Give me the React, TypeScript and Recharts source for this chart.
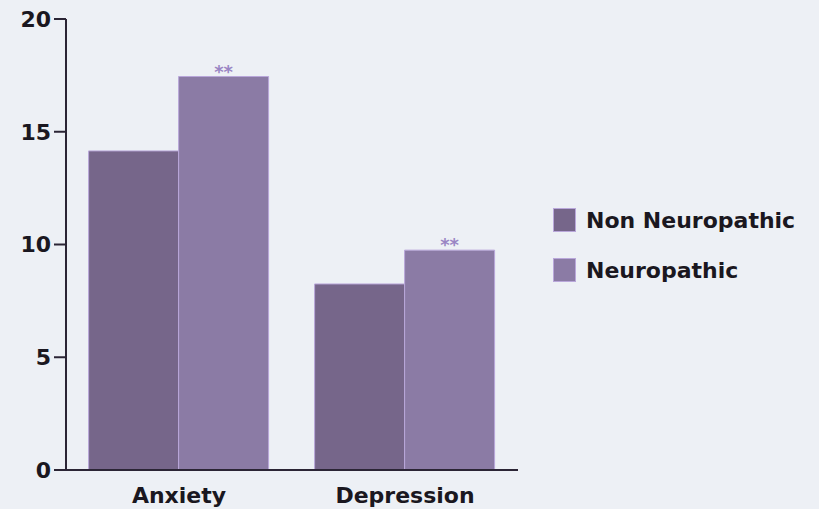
import { BarChart, Bar, XAxis, YAxis, LabelList } from 'recharts'

const categories = ['Anxiety', 'Depression']
const nonNeuropathic = [14.15, 8.25]
const neuropathic = [17.45, 9.75]
const significance = ['**', '**']
const yTicks = [0, 5, 10, 15, 20]

const BG = '#edf0f5'
const DARK = '#76668a'
const LIGHT = '#8b7ba5'
const EDGE = '#b9a7da'
const AXIS = '#2b2535'
const FONT = '"DejaVu Sans", Arial, sans-serif'

const data = categories.map((name, i) => ({
    name,
    non: nonNeuropathic[i],
    neuro: neuropathic[i],
    sig: significance[i],
}))

const legendItems = [
    { label: 'Non Neuropathic', color: DARK },
    { label: 'Neuropathic', color: LIGHT },
]

function LegendBox() {
    return (
        <div
            style={{
                position: 'absolute',
                left: 553,
                top: 195,
                fontFamily: FONT,
                fontWeight: 'bold',
                fontSize: 22,
                color: '#1a1720',
            }}
        >
            {legendItems.map((item) => (
                <div key={item.label} style={{ display: 'flex', alignItems: 'center', height: 50 }}>
                    <div
                        style={{
                            width: 21,
                            height: 22,
                            backgroundColor: item.color,
                            border: `1px solid ${EDGE}`,
                            marginRight: 10,
                        }}
                    />
                    <span>{item.label}</span>
                </div>
            ))}
        </div>
    )
}

export default function App() {
    return (
        <div style={{ position: 'absolute', left: 0, top: 0, width: 819, height: 509, background: BG }}>
            <BarChart
                width={819}
                height={509}
                data={data}
                margin={{ top: 19, right: 301, left: 6, bottom: 4 }}
                barCategoryGap="10%"
                barGap={0}
            >
                <XAxis
                    dataKey="name"
                    tickLine={false}
                    tickSize={0}
                    tickMargin={17}
                    height={35}
                    axisLine={{ stroke: AXIS, strokeWidth: 2 }}
                    tick={{ fill: '#1a1720', fontSize: 22, fontWeight: 'bold', fontFamily: FONT }}
                />
                <YAxis
                    width={60}
                    domain={[0, 20]}
                    ticks={yTicks}
                    tickSize={12}
                    tickMargin={3}
                    axisLine={{ stroke: AXIS, strokeWidth: 2 }}
                    tickLine={{ stroke: AXIS, strokeWidth: 2 }}
                    tick={{ fill: '#1a1720', fontSize: 22, fontWeight: 'bold', fontFamily: FONT }}
                />
                <Bar dataKey="non" name="Non Neuropathic" fill={DARK} stroke={EDGE} strokeWidth={1} isAnimationActive={false} />
                <Bar dataKey="neuro" name="Neuropathic" fill={LIGHT} stroke={EDGE} strokeWidth={1} isAnimationActive={false}>
                    <LabelList
                        dataKey="sig"
                        position="top"
                        offset={-1}
                        fill="#9a85c4"
                        fontSize={18}
                        fontWeight="bold"
                        fontFamily={FONT}
                    />
                </Bar>
            </BarChart>
            <LegendBox />
        </div>
    )
}
